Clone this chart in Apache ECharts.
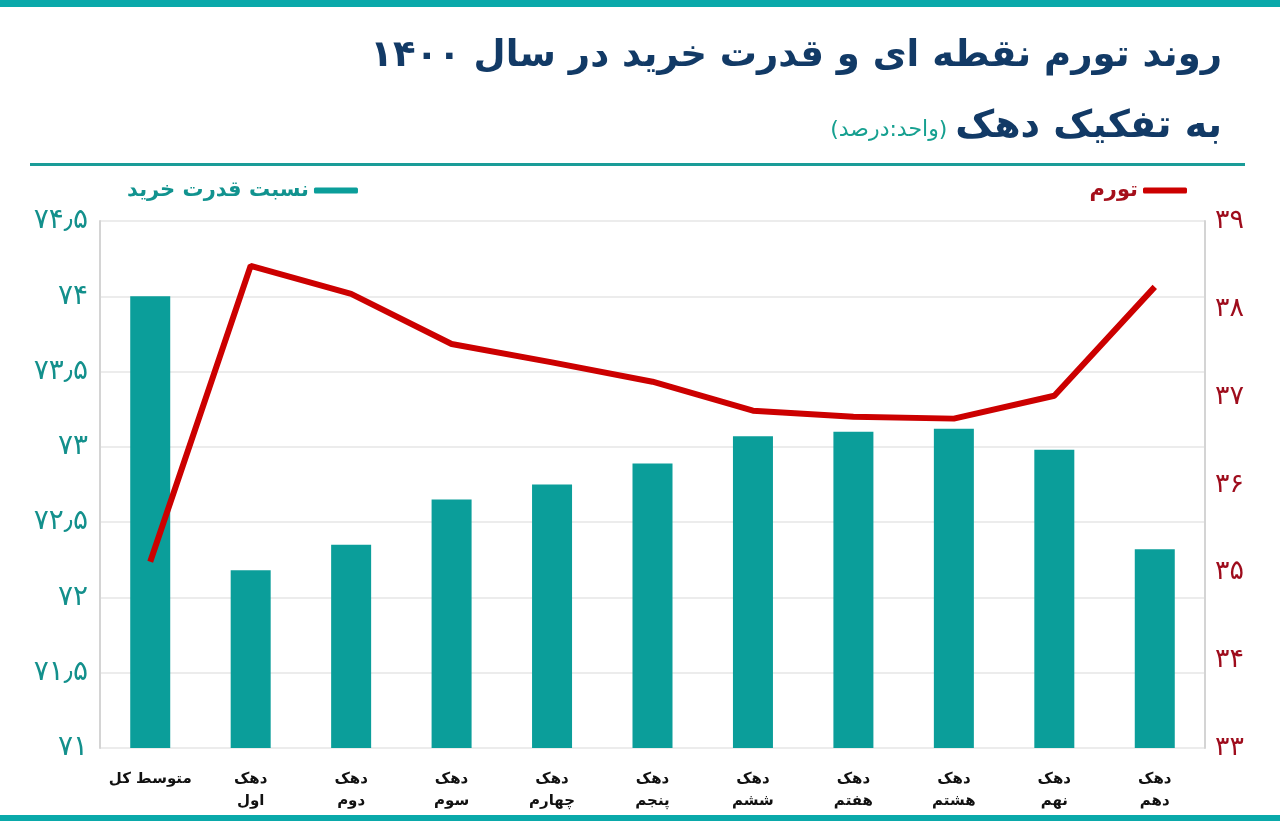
<!DOCTYPE html>
<html><head><meta charset="utf-8">
<script src="https://cdn.jsdelivr.net/npm/echarts@6/dist/echarts.min.js"></script>
<style>html,body{margin:0;padding:0;background:#fff}#c{width:1280px;height:821px}</style>
</head><body><div id="c"></div>
<script>
const categories = ['متوسط کل','دهک\nاول','دهک\nدوم','دهک\nسوم','دهک\nچهارم','دهک\nپنجم','دهک\nششم','دهک\nهفتم','دهک\nهشتم','دهک\nنهم','دهک\nدهم'];
const purchasingPower = [74.0, 72.18, 72.35, 72.65, 72.75, 72.89, 73.07, 73.10, 73.12, 72.98, 72.32];
const inflation = [35.12, 38.49, 38.17, 37.60, 37.39, 37.17, 36.84, 36.77, 36.75, 37.01, 38.25];
const titleText = 'روند تورم نقطه ای و قدرت خرید در سال ۱۴۰۰';
const subtitleText = 'به تفکیک دهک';
const unitText = '(واحد:درصد)';
const seriesNames = ['نسبت قدرت خرید','تورم'];

const FONT = '"DejaVu Sans", sans-serif';
function fa(v){
  const d='۰۱۲۳۴۵۶۷۸۹';
  return String(v).replace(/[0-9]/g,c=>d[+c]).replace('.', '٫');
}
const subFont = 'bold 38px '+FONT;
const subW = echarts.format.getTextRect ? echarts.format.getTextRect(subtitleText, subFont).width : 270;
const chart = echarts.init(document.getElementById('c'));
chart.setOption({
  backgroundColor:'#fff',
  animation:false,
  textStyle:{fontFamily:FONT},
  grid:{left:100,right:75,top:221,bottom:73,containLabel:false},
  legend:[
    {data:[seriesNames[0]],left:122,top:175,align:'right',itemWidth:44,itemHeight:6,icon:'roundRect',itemGap:8,
     textStyle:{color:'#11938f',fontSize:21,fontWeight:'bold',fontFamily:FONT}},
    {data:[seriesNames[1]],right:88,top:175,align:'right',itemWidth:44,itemHeight:6,icon:'roundRect',
     textStyle:{color:'#a50f1b',fontSize:21,fontWeight:'bold',fontFamily:FONT}}
  ],
  xAxis:{type:'category',data:categories,
    axisLine:{show:false},axisTick:{show:false},
    axisLabel:{color:'#111',fontSize:15,fontWeight:'bold',lineHeight:22,margin:20,interval:0,fontFamily:FONT}},
  yAxis:[
    {type:'value',min:71,max:74.5,interval:0.5,position:'left',
     axisLine:{show:true,lineStyle:{color:'#d4d4d4',width:2}},axisTick:{show:false},
     splitLine:{lineStyle:{color:'#e6e6e6',width:1.5}},
     axisLabel:{color:'#13908c',fontSize:28,margin:12,formatter:v=>fa(v),fontFamily:FONT}},
    {type:'value',min:33,max:39,interval:1,position:'right',
     axisLine:{show:true,lineStyle:{color:'#d4d4d4',width:2}},axisTick:{show:false},
     splitLine:{show:false},
     axisLabel:{color:'#9e0c1c',fontSize:27,margin:10,formatter:v=>fa(v),fontFamily:FONT}}
  ],
  series:[
    {name:seriesNames[0],type:'bar',data:purchasingPower,yAxisIndex:0,barWidth:40,
     itemStyle:{color:'#0b9e9a'}},
    {name:seriesNames[1],type:'line',data:inflation,yAxisIndex:1,symbol:'none',
     lineStyle:{color:'#cc0000',width:6},itemStyle:{color:'#cc0000'},z:5}
  ],
  graphic:[
    {type:'rect',shape:{x:0,y:0,width:1280,height:7},style:{fill:'#0aa9aa'}},
    {type:'rect',shape:{x:0,y:815,width:1280,height:6},style:{fill:'#0aa9aa'}},
    {type:'rect',shape:{x:30,y:163,width:1215,height:3},style:{fill:'#1a9c98'}},
    {type:'text',right:58,top:38,style:{text:titleText,fill:'#123a66',font:'bold 37px '+FONT,textAlign:'right'}},
    {type:'text',right:58,top:108,style:{text:subtitleText,fill:'#123a66',font:subFont,textAlign:'right'}},
    {type:'text',right:58+subW+8,top:119,style:{text:unitText,fill:'#16a090',font:'22px '+FONT,textAlign:'right'}}
  ]
});
</script></body></html>
